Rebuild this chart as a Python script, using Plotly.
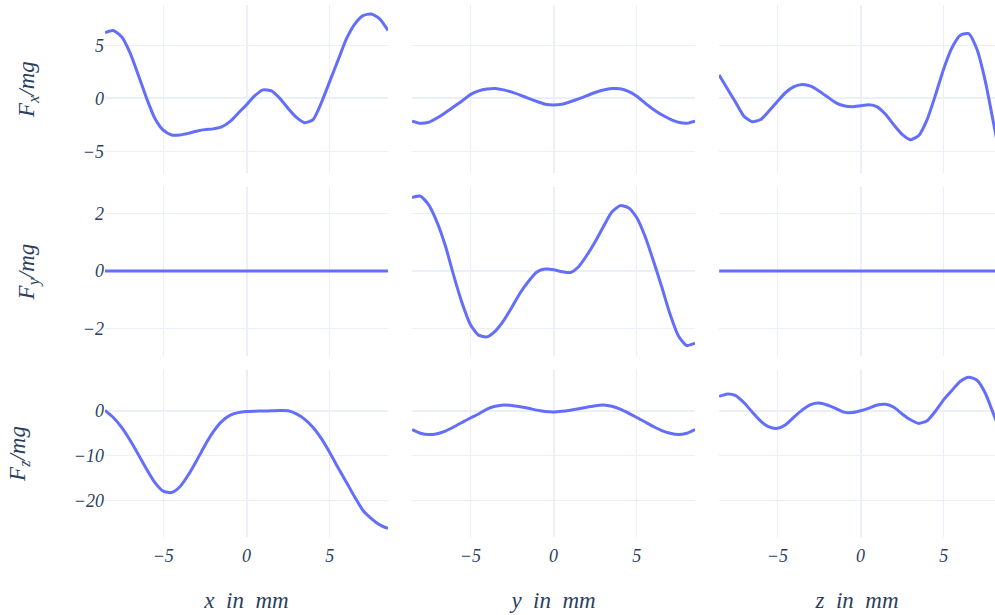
import plotly.graph_objects as go
from plotly.subplots import make_subplots

# Sample positions along each displacement axis (mm)
pos_mm = [-8.5, -8.0, -7.5, -7.0, -6.5, -6.0, -5.5, -5.0, -4.5, -4.0, -3.5, -3.0,
          -2.5, -2.0, -1.5, -1.0, -0.5, 0.0, 0.5, 1.0, 1.5, 2.0, 2.5, 3.0,
          3.5, 4.0, 4.5, 5.0, 5.5, 6.0, 6.5, 7.0, 7.5, 8.0, 8.5]

# Normalised force components F/mg, one list per (component, displacement axis)
fx_vs_x = [6.2, 6.4, 5.8, 4.3, 2.2, 0.0, -1.9, -3.0, -3.45, -3.45, -3.3, -3.1,
           -2.95, -2.88, -2.7, -2.2, -1.4, -0.6, 0.25, 0.8, 0.7, 0.0, -0.95, -1.8,
           -2.3, -2.0, -0.4, 1.6, 3.6, 5.6, 7.0, 7.8, 7.95, 7.5, 6.4]
fx_vs_y = [-2.15, -2.35, -2.25, -1.85, -1.35, -0.8, -0.25, 0.35, 0.7, 0.88, 0.93, 0.8,
           0.58, 0.3, 0.0, -0.3, -0.55, -0.62, -0.55, -0.32, -0.05, 0.25, 0.55, 0.78,
           0.92, 0.9, 0.65, 0.2, -0.45, -1.05, -1.55, -1.95, -2.25, -2.35, -2.15]
fx_vs_z = [2.2, 0.9, -0.4, -1.7, -2.2, -2.0, -1.2, -0.3, 0.55, 1.1, 1.3, 1.15,
           0.7, 0.15, -0.4, -0.7, -0.8, -0.7, -0.6, -0.8, -1.5, -2.5, -3.4, -3.9,
           -3.5, -2.0, 0.3, 2.8, 4.8, 5.95, 6.1, 4.6, 1.6, -2.4, -6.5]

fy_vs_x = [0.0] * 35
fy_vs_y = [2.55, 2.6, 2.3, 1.7, 0.88, -0.15, -1.1, -1.85, -2.22, -2.28, -2.08, -1.72,
           -1.25, -0.75, -0.35, -0.03, 0.07, 0.05, -0.02, -0.05, 0.15, 0.55, 1.02, 1.55,
           2.05, 2.27, 2.2, 1.85, 1.2, 0.35, -0.55, -1.5, -2.25, -2.58, -2.5]
fy_vs_z = [0.0] * 35

fz_vs_x = [0.1, -1.5, -3.7, -6.5, -9.7, -13.0, -16.0, -17.9, -18.2, -16.9, -14.3, -11.1,
           -7.7, -4.7, -2.4, -1.0, -0.4, -0.15, -0.08, -0.03, 0.0, 0.05, 0.0, -0.7,
           -1.9, -3.7, -6.2, -9.3, -12.7, -15.9, -19.2, -22.2, -24.0, -25.4, -26.2]
fz_vs_y = [-4.2, -5.0, -5.3, -5.1, -4.5, -3.6, -2.6, -1.6, -0.7, 0.4, 1.0, 1.3,
           1.2, 0.9, 0.55, 0.15, -0.15, -0.25, -0.1, 0.15, 0.45, 0.8, 1.15, 1.3,
           1.0, 0.4, -0.5, -1.5, -2.5, -3.5, -4.4, -5.0, -5.3, -5.0, -4.2]
fz_vs_z = [3.2, 3.75, 3.4, 1.8, -0.3, -2.3, -3.6, -3.9, -3.1, -1.4, 0.2, 1.4,
           1.75, 1.3, 0.55, -0.3, -0.4, 0.0, 0.6, 1.3, 1.45, 0.8, -0.7, -2.0,
           -2.8, -2.2, -0.1, 2.5, 4.6, 6.6, 7.5, 6.8, 3.9, -0.8, -5.5]

grid = [
    [fx_vs_x, fx_vs_y, fx_vs_z],
    [fy_vs_x, fy_vs_y, fy_vs_z],
    [fz_vs_x, fz_vs_y, fz_vs_z],
]

row_titles = ["F<sub>x</sub>/mg", "F<sub>y</sub>/mg", "F<sub>z</sub>/mg"]
col_titles = ["x\u00a0\u00a0in\u00a0\u00a0mm", "y\u00a0\u00a0in\u00a0\u00a0mm", "z\u00a0\u00a0in\u00a0\u00a0mm"]
row_ranges = [[-7.05, 8.8], [-2.93, 2.9], [-28.1, 9.1]]
row_dticks = [5, 2, 10]
col_ranges = [[-8.5, 8.5], [-8.5, 8.5], [-8.5, 8.08]]

x_domains = [[0.0, 0.318], [0.345, 0.663], [0.690, 1.0]]
y_domains = [[0.684, 1.0], [0.341, 0.657], [0.0, 0.314]]

LINE = "#636efa"
TEXT = "#2a3f5f"
SERIF = "Liberation Serif"

fig = make_subplots(rows=3, cols=3, shared_xaxes=True, shared_yaxes=True,
                    horizontal_spacing=0.03, vertical_spacing=0.03)

for r in range(3):
    for c in range(3):
        fig.add_trace(
            go.Scatter(x=pos_mm, y=grid[r][c], mode="lines",
                       line=dict(color=LINE, width=3, shape="spline", smoothing=0.6),
                       showlegend=False, hoverinfo="x+y"),
            row=r + 1, col=c + 1,
        )
        fig.update_xaxes(domain=x_domains[c], range=col_ranges[c], dtick=5,
                         showgrid=True, gridcolor="#EBF0F8", zeroline=True,
                         zerolinecolor="#EBF0F8", zerolinewidth=2, showline=False,
                         ticklabelstandoff=6,
                         tickfont=dict(family=SERIF, size=18, color=TEXT, style="italic"),
                         row=r + 1, col=c + 1)
        fig.update_yaxes(domain=y_domains[r], range=row_ranges[r], dtick=row_dticks[r],
                         showgrid=True, gridcolor="#EBF0F8", zeroline=True,
                         zerolinecolor="#EBF0F8", zerolinewidth=2, showline=False,
                         tickfont=dict(family=SERIF, size=18, color=TEXT, style="italic"),
                         row=r + 1, col=c + 1)

for c in range(3):
    fig.update_xaxes(title=dict(text=col_titles[c], standoff=26,
                                font=dict(family=SERIF, size=23, color=TEXT, style="italic")),
                     row=3, col=c + 1)
for r in range(3):
    fig.update_yaxes(title=dict(text=row_titles[r], standoff=41,
                                font=dict(family=SERIF, size=23, color=TEXT, style="italic")),
                     row=r + 1, col=1)

fig.update_layout(
    template="plotly_white",
    width=995, height=615,
    margin=dict(l=105, r=0, t=5, b=78),
    showlegend=False,
    plot_bgcolor="white", paper_bgcolor="white",
)

fig.write_html("out.html")
